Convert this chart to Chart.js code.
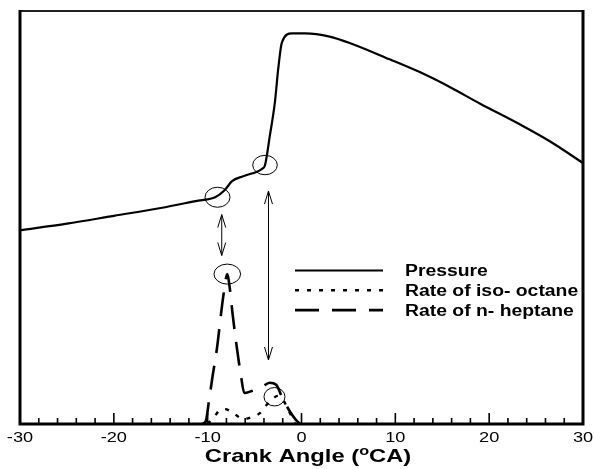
<!DOCTYPE html>
<html>
<head>
<meta charset="utf-8">
<script src="https://cdn.jsdelivr.net/npm/chart.js@4/dist/chart.umd.min.js"></script>
<style>
html, body { margin: 0; padding: 0; background: #fff; }
#wrap { width: 594px; height: 469px; }
</style>
</head>
<body>
<div id="wrap"><canvas id="crankChart"></canvas></div>
<script>
// pressure trace (arbitrary units, the figure has no y labels)
var pressureAngle = [-30, -25, -20, -15, -11, -9.2, -8.2, -7.4, -6.2, -4.2, -3.9, -3.36, -2.83, -2.47, -2.1, -1.0, 0.4, 3.0, 5.2, 9.4, 12.6, 15.8, 19.0, 23.3, 26.5, 30];
var pressureValue = [46.9, 48.5, 50.4, 52.3, 54.1, 54.9, 56.6, 58.8, 60.0, 61.8, 62.6, 70.0, 78.0, 86.2, 92.3, 94.6, 94.6, 93.8, 92.2, 88.3, 85.2, 81.6, 77.6, 72.5, 68.4, 63.2];

// rate of iso-octane
var octaneAngle = [-10.0, -9.3, -8.7, -8.15, -7.3, -6.2, -5.3, -4.4, -3.8, -3.1, -2.5, -1.9, -1.45, -1.0, -0.7];
var octaneRate = [0, 1.7, 3.4, 3.6, 2.7, 1.2, 1.7, 2.7, 4.4, 6.1, 6.8, 5.6, 3.6, 1.5, 0];

// rate of n-heptane
var heptaneAngle = [-10.6, -10.2, -9.86, -9.5, -9.0, -8.6, -8.3, -7.9, -7.65, -7.3, -6.8, -6.45, -6.1, -5.3, -4.2, -3.4, -2.7, -2.0, -1.2, -0.6, -0.15];
var heptaneRate = [0, 0.7, 5.6, 11.2, 18.5, 26.2, 31.5, 36.3, 33.0, 25.8, 17.0, 11.7, 7.5, 8.0, 9.0, 10.0, 9.5, 6.1, 2.9, 1.0, 0];

var angleTicks = [-30, -20, -10, 0, 10, 20, 30];
var seriesNames = ['Pressure', 'Rate of iso- octane', 'Rate of n- heptane'];

// circles and double arrows drawn on the figure (data units)
var markCircles = [[-8.95, 54.9, 12.5, 10], [-3.89, 62.7, 12.3, 9.7], [-7.91, 36.3, 13.3, 10], [-2.88, 6.6, 10.5, 9.2]];
var markArrows = [[-8.5, 50.7, 40.8], [-3.52, 56.4, 15.5]];

var FONT = '"Liberation Sans", Arial, sans-serif';

function toPoints(xs, ys) {
	return xs.map(function (x, i) { return { x: x, y: ys[i] }; });
}

// the source image is stretched sideways, so text gets a horizontal scale
function wideText(ctx, str, x, y, sx, align) {
	var w = ctx.measureText(str).width * sx;
	var x0 = align === 'center' ? x - w / 2 : x;
	ctx.save();
	ctx.translate(x0, y);
	ctx.scale(sx, 1);
	ctx.textAlign = 'left';
	ctx.fillText(str, 0, 0);
	ctx.restore();
	return w;
}

var figureDecor = {
	id: 'figureDecor',
	afterDatasetsDraw: function (chart) {
		var ctx = chart.ctx, a = chart.chartArea;
		var xs = chart.scales.x, ys = chart.scales.y;
		ctx.save();
		ctx.strokeStyle = '#000';
		ctx.fillStyle = '#000';

		// circles
		ctx.lineWidth = 1;
		markCircles.forEach(function (c) {
			ctx.beginPath();
			ctx.ellipse(xs.getPixelForValue(c[0]), ys.getPixelForValue(c[1]), c[2], c[3], 0, 0, Math.PI * 2);
			ctx.stroke();
		});

		// double arrows
		markArrows.forEach(function (m) {
			var x = xs.getPixelForValue(m[0]);
			var y1 = ys.getPixelForValue(m[1]), y2 = ys.getPixelForValue(m[2]);
			ctx.beginPath();
			ctx.moveTo(x, y1); ctx.lineTo(x, y2);
			ctx.moveTo(x - 4, y1 + 13); ctx.lineTo(x, y1); ctx.lineTo(x + 4, y1 + 13);
			ctx.moveTo(x - 4, y2 - 13); ctx.lineTo(x, y2); ctx.lineTo(x + 4, y2 - 13);
			ctx.stroke();
		});

		// legend
		ctx.font = 'bold 16px ' + FONT;
		ctx.textBaseline = 'middle';
		chart.data.datasets.forEach(function (ds, i) {
			var ly = 270.5 + i * 19.8;
			ctx.lineWidth = ds.borderWidth;
			ctx.setLineDash(ds.borderDash || []);
			ctx.beginPath();
			ctx.moveTo(295, ly); ctx.lineTo(383, ly);
			ctx.stroke();
			ctx.setLineDash([]);
			wideText(ctx, ds.label, 405, ly + 1, 1.21, 'left');
		});

		// frame
		ctx.lineCap = 'butt';
		ctx.lineWidth = 1.8;
		ctx.strokeStyle = '#222';
		ctx.beginPath();
		ctx.moveTo(a.left, a.top); ctx.lineTo(a.right, a.top);
		ctx.stroke();
		ctx.strokeStyle = '#000';
		ctx.lineWidth = 3;
		ctx.beginPath();
		ctx.moveTo(a.left, a.top - 1); ctx.lineTo(a.left, a.bottom);
		ctx.lineTo(a.right, a.bottom); ctx.lineTo(a.right, a.top - 1);
		ctx.stroke();

		// ticks, pointing inward
		ctx.lineWidth = 1.6;
		ctx.beginPath();
		for (var v = xs.min; v <= xs.max; v += 2) {
			var px = xs.getPixelForValue(v);
			var len = (v % 10 === 0) ? 11 : 6;
			ctx.moveTo(px, a.bottom); ctx.lineTo(px, a.bottom - len);
		}
		ctx.stroke();

		// tick labels
		ctx.font = '14px ' + FONT;
		ctx.textBaseline = 'alphabetic';
		xs.ticks.forEach(function (t) {
			wideText(ctx, String(t.value), xs.getPixelForValue(t.value), 442, 1.3, 'center');
		});

		// axis title with superscript o
		var big = 'bold 19px ' + FONT, small = 'bold 13px ' + FONT, sx = 1.25;
		ctx.font = big;
		var w1 = ctx.measureText('Crank Angle (').width * sx;
		var w3 = ctx.measureText('CA)').width * sx;
		ctx.font = small;
		var w2 = ctx.measureText('o').width * sx;
		var tx = 308 - (w1 + w2 + w3) / 2;
		ctx.font = big;
		wideText(ctx, 'Crank Angle (', tx, 462, sx, 'left');
		ctx.font = small;
		wideText(ctx, 'o', tx + w1, 455, sx, 'left');
		ctx.font = big;
		wideText(ctx, 'CA)', tx + w1 + w2, 462, sx, 'left');

		ctx.restore();
	}
};

var ctx = document.getElementById('crankChart');
var crankChart = new Chart(ctx, {
	type: 'line',
	data: {
		datasets: [{
			label: seriesNames[0],
			data: toPoints(pressureAngle, pressureValue),
			borderColor: '#000',
			borderWidth: 2.2
		}, {
			label: seriesNames[1],
			data: toPoints(octaneAngle, octaneRate),
			borderColor: '#000',
			borderWidth: 2.4,
			borderDash: [4, 8]
		}, {
			label: seriesNames[2],
			data: toPoints(heptaneAngle, heptaneRate),
			borderColor: '#000',
			borderWidth: 2.6,
			borderDash: [24, 13]
		}]
	},
	options: {
		responsive: true,
		maintainAspectRatio: false,
		animation: false,
		events: [],
		layout: { padding: { left: 20, right: 11, top: 11, bottom: 0 } },
		elements: {
			point: { radius: 0 },
			line: { cubicInterpolationMode: 'monotone', fill: false }
		},
		scales: {
			x: {
				type: 'linear',
				min: -30,
				max: 30,
				grid: { display: false },
				border: { display: false },
				ticks: { display: false },
				afterBuildTicks: function (scale) {
					scale.ticks = angleTicks.map(function (v) { return { value: v }; });
				},
				afterFit: function (scale) { scale.height = 45; }
			},
			y: {
				display: false,
				min: 0,
				max: 100
			}
		},
		plugins: {
			legend: { display: false },
			tooltip: { enabled: false }
		}
	},
	plugins: [figureDecor]
});
</script>
</body>
</html>
